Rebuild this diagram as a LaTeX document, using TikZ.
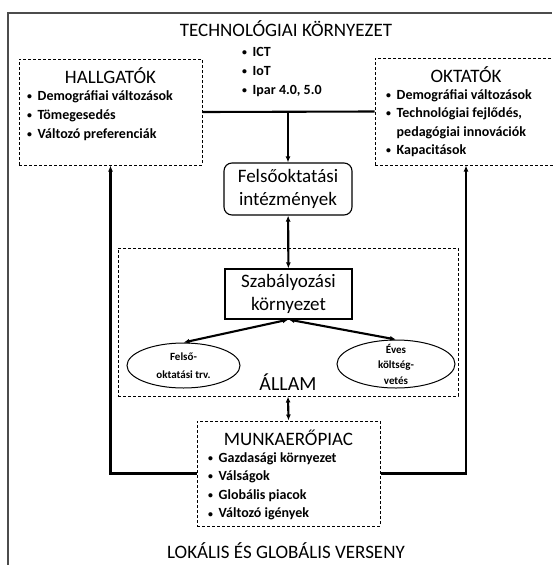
\documentclass[tikz,border=0pt]{standalone}
\usepackage{fontspec}
\setmainfont{Carlito}
\usepackage{tikz}
\usetikzlibrary{arrows.meta}
\usetikzlibrary{shapes.geometric}
\usetikzlibrary{positioning}

\newcommand{\bul}{\makebox[10.5pt][l]{\raisebox{0.8pt}{\scalebox{0.7}{\textbullet}}}}

\begin{document}
\begin{tikzpicture}[x=1pt, y=-1pt,
			every node/.style={inner sep=0pt},
			dbox/.style={draw, line width=1pt, dash pattern=on 3pt off 2pt},
			sbox/.style={draw, line width=1.1pt},
			head/.style={font=\fontsize{19}{23}\selectfont, align=center},
			lst/.style={font=\bfseries\fontsize{14}{19}\selectfont, align=left, anchor=north west},
			small/.style={font=\bfseries\fontsize{11}{15.5}\selectfont, align=center},
			edge/.style={line width=2.1pt},
			arr/.style={edge, -{Latex[length=6pt,width=5pt]}},
			darr/.style={edge, {Latex[length=6pt,width=5pt]}-{Latex[length=6pt,width=5pt]}}
		]
		\useasboundingbox (0,0) rectangle (552,565);
		\draw[line width=1.3pt, black!70] (8,565) -- (8,13) -- (552,13);

		\node[head] (tech) at (286,29) {TECHNOLÓGIAI KÖRNYEZET};
		\node[lst] (techl) at (242,47) {\bul ICT\\ \bul IoT\\ \bul Ipar 4.0, 5.0};

		\node[dbox, minimum width=183pt, minimum height=106pt] (hallg) at (110.5,112) {};
		\node[head] (hallgt) at (110.5,76) {HALLGATÓK};
		\node[lst] (hallgl) at (27,90) {\bul Demográfiai változások\\ \bul Tömegesedés\\ \bul Változó preferenciák};

		\node[dbox, minimum width=182pt, minimum height=107pt] (oktat) at (466,111.5) {};
		\node[head] (oktatt) at (466,75) {OKTATÓK};
		\node[lst, font=\bfseries\fontsize{14}{18.5}\selectfont] (oktatl) at (386,89) {\bul Demográfiai változások\\ \bul Technológiai fejlődés,\\ \hspace{10.5pt}pedagógiai innovációk\\ \bul Kapacitások};

		\node[sbox, rounded corners=8pt, minimum width=128pt, minimum height=52pt, head] (felso) at (288,189) {Felsőoktatási\\intézmények};

		\node[dbox, minimum width=340pt, minimum height=148pt] (allam) at (288,322) {};
		\node[sbox, minimum width=127pt, minimum height=50pt, head] (szab) at (288.5,294) {Szabályozási\\környezet};
		\node[ellipse, draw, line width=1pt, minimum width=113pt, minimum height=45pt, small, font=\bfseries\fontsize{11}{18}\selectfont] (trv) at (183.5,365.5) {Felső-\\oktatási trv.};
		\node[ellipse, draw, line width=1pt, minimum width=118pt, minimum height=48pt, inner ysep=-4pt, small] (kolt) at (396,364) {Éves\\költség-\\vetés};
		\node[font=\fontsize{20}{24}\selectfont] (allamt) at (288,382) {ÁLLAM};

		\node[dbox, minimum width=183pt, minimum height=105pt] (munka) at (288.5,473.5) {};
		\node[head] (munkat) at (288.5,438) {MUNKAERŐPIAC};
		\node[lst, font=\bfseries\fontsize{14}{18.6}\selectfont] (munkal) at (208,452) {\bul Gazdasági környezet\\ \bul Válságok\\ \bul Globális piacok\\ \bul Változó igények};

		\node[head] (verseny) at (286,551) {LOKÁLIS ÉS GLOBÁLIS VERSENY};

		\draw[edge] (hallg.east) -- (oktat.west);
		\draw[arr] (felso.north |- hallg.east) -- (felso.north);
		\draw[darr] (felso) -- (szab);
		\draw[darr] (szab.south) -- (trv.north);
		\draw[darr] (szab.south) -- (kolt.north);
		\draw[darr] (allam.south) -- (munka.north);
		\draw[arr] (munka.west) -| (hallg.south);
		\draw[arr] (munka.east) -| (oktat.south);
	\end{tikzpicture}
\end{document}
